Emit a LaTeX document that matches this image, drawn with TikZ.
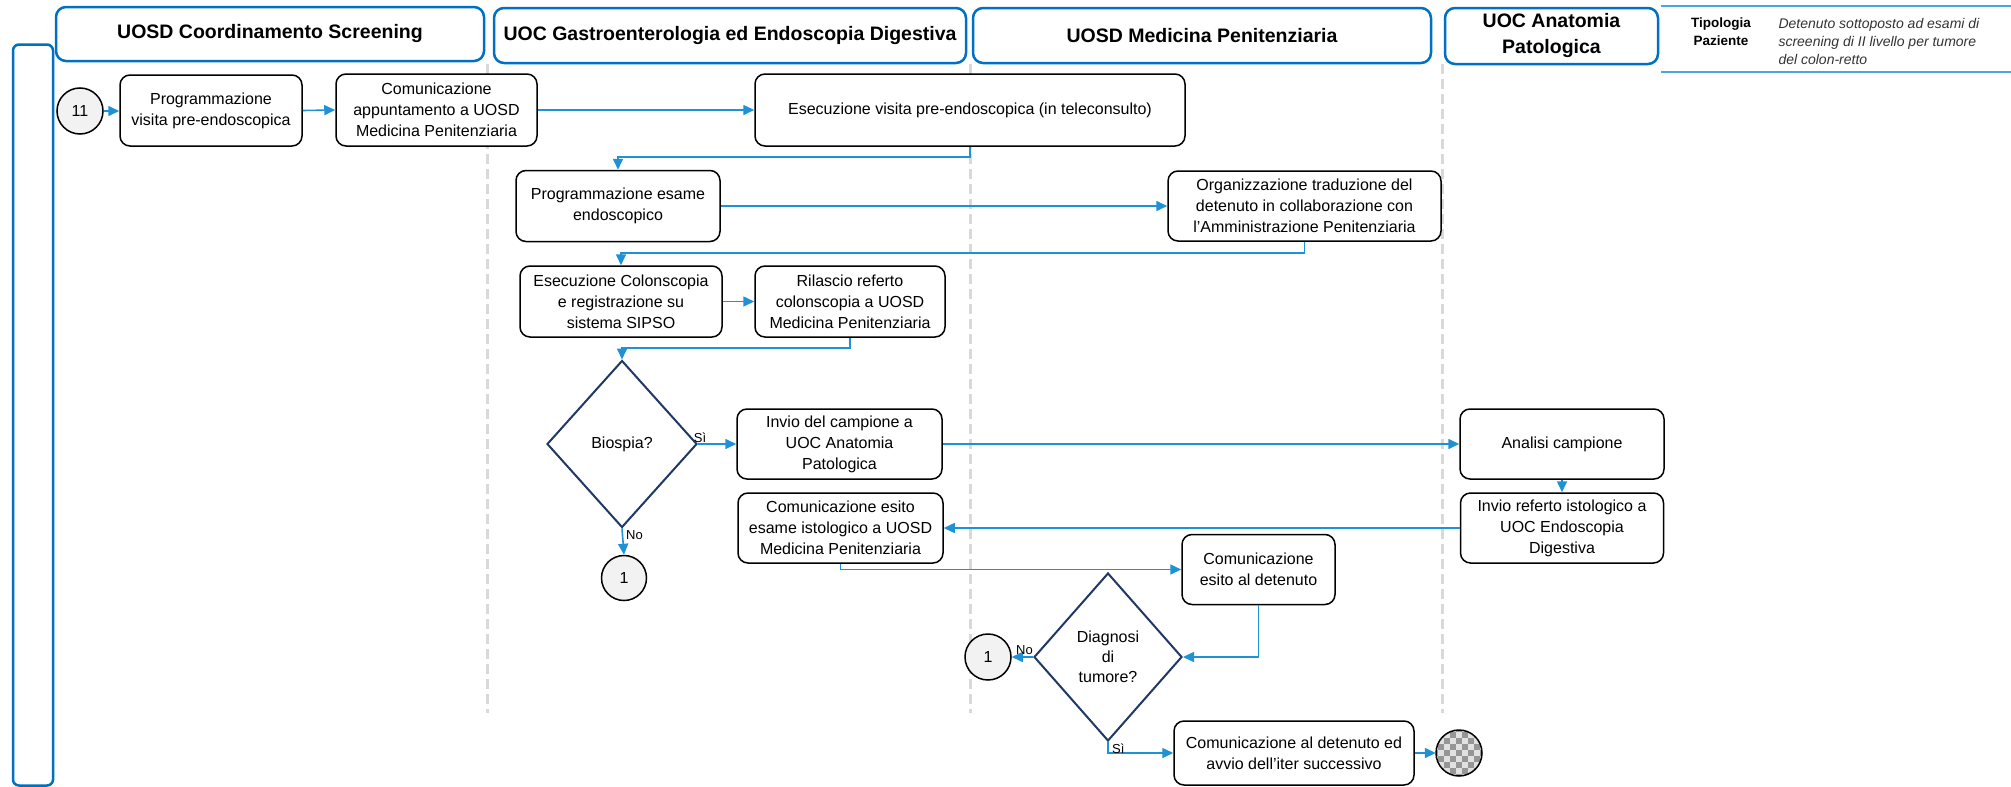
\documentclass[tikz,border=0pt]{standalone}
\usepackage{fontspec}
\setmainfont{Liberation Sans}
\usetikzlibrary{shapes.geometric, arrows.meta}
\definecolor{hdrblue}{RGB}{0,112,192}
\definecolor{connblue}{RGB}{30,145,215}
\definecolor{legblue}{RGB}{75,165,225}
\definecolor{navy}{RGB}{31,56,100}
\definecolor{lanegray}{RGB}{217,217,217}
\definecolor{circfill}{RGB}{242,242,242}
\definecolor{chkdark}{RGB}{150,150,150}
\definecolor{chklight}{RGB}{225,225,225}

\tikzset{
  box/.style={draw=black, line width=1.5pt, rounded corners=10pt, fill=white,
    align=center, inner sep=2pt, font=\fontsize{16}{21}\selectfont},
  hdr/.style={draw=hdrblue, line width=2.5pt, rounded corners=10pt, fill=white,
    align=center, inner sep=2pt, font=\bfseries\fontsize{19.5}{26}\selectfont},
  decision/.style={diamond, draw=navy, line width=2pt, fill=white, inner sep=0pt,
    align=center, font=\fontsize{16}{20}\selectfont},
  onpage/.style={circle, draw=black, line width=1.5pt, fill=circfill, inner sep=0pt,
    minimum size=46pt, font=\fontsize{16}{19}\selectfont},
  conn/.style={draw=connblue, line width=1.6pt, -{Triangle[length=11pt,width=10pt]}},
  lane/.style={draw=lanegray, line width=3pt, dash pattern=on 10pt off 5pt},
  legline/.style={draw=legblue, line width=2pt},
  lbl/.style={inner sep=1pt, font=\fontsize{13}{15}\selectfont}
}

\begin{document}
\begin{tikzpicture}[x=1pt, y=-1pt]
\useasboundingbox (0,0) rectangle (2011,787);

% swimlane separators
\draw[lane] (487,64) -- (487,713);
\draw[lane] (970,64) -- (970,713);
\draw[lane] (1442,64) -- (1442,713);

% left frame
\node[draw=hdrblue, line width=2.5pt, rounded corners=6pt, minimum width=40pt,
      minimum height=741pt, inner sep=0pt] (frame) at (33,415) {};

% lane headers
\node[hdr, minimum width=428pt, minimum height=54pt] (h1) at (270,34) {UOSD Coordinamento Screening};
\node[hdr, minimum width=472pt, minimum height=55pt] (h2) at (730,35.5) {UOC Gastroenterologia ed Endoscopia Digestiva};
\node[hdr, minimum width=458pt, minimum height=55pt] (h3) at (1202,35.5) {UOSD Medicina Penitenziaria};
\node[hdr, minimum width=213pt, minimum height=56pt] (h4) at (1551.5,36) {UOC Anatomia\\Patologica};

% patient type legend
\draw[legline] (1661,6) -- (2011,6);
\draw[legline] (1661,72) -- (2011,72);
\node[align=center, font=\bfseries\fontsize{13.5}{18}\selectfont] (tipo) at (1721,32) {Tipologia\\Paziente};
\node[anchor=west, align=left, text=black!80, font=\itshape\fontsize{14}{18}\selectfont] (tipodesc) at (1775,41)
  {Detenuto sottoposto ad esami di\\screening di II livello per tumore\\del colon-retto};

% process steps
\node[onpage] (c11) at (80,111) {11};
\node[box, minimum width=182pt, minimum height=71pt] (p1) at (211,110.5) {Programmazione\\visita pre-endoscopica};
\node[box, minimum width=201pt, minimum height=72pt] (p2) at (436.5,110) {Comunicazione\\appuntamento a UOSD\\Medicina Penitenziaria};
\node[box, minimum width=430pt, minimum height=72pt] (p3) at (970,110) {Esecuzione visita pre-endoscopica (in teleconsulto)};
\node[box, minimum width=204pt, minimum height=71pt] (p4) at (618,206) {Programmazione esame\\endoscopico};
\node[box, minimum width=273pt, minimum height=70pt] (p5) at (1304.5,206) {Organizzazione traduzione del\\detenuto in collaborazione con\\l’Amministrazione Penitenziaria};
\node[box, minimum width=202pt, minimum height=71pt] (p6) at (621,301.5) {Esecuzione Colonscopia\\e registrazione su\\sistema SIPSO};
\node[box, minimum width=190pt, minimum height=71pt] (p7) at (850,301.5) {Rilascio referto\\colonscopia a UOSD\\Medicina Penitenziaria};
\node[decision, minimum width=150pt, minimum height=167pt] (d1) at (622,444) {Biospia?};
\node[box, minimum width=205pt, minimum height=70pt] (p8) at (839.5,444) {Invio del campione a\\UOC Anatomia\\Patologica};
\node[onpage, minimum size=45pt] (c1) at (624,578) {1};
\node[box, minimum width=204pt, minimum height=70pt] (p10) at (1562,444) {Analisi campione};
\node[box, minimum width=203pt, minimum height=70pt] (p11) at (1562,528) {Invio referto istologico a\\UOC Endoscopia\\Digestiva};
\node[box, minimum width=205pt, minimum height=70pt] (p9) at (840.5,528) {Comunicazione esito\\esame istologico a UOSD\\Medicina Penitenziaria};
\node[box, minimum width=153pt, minimum height=70pt] (p12) at (1258.5,569.5) {Comunicazione\\esito al detenuto};
\node[decision, minimum width=148pt, minimum height=168pt] (d2) at (1108,657) {Diagnosi\\di\\tumore?};
\node[onpage] (c2) at (988,657) {1};
\node[box, minimum width=240pt, minimum height=64pt] (p13) at (1294,753) {Comunicazione al detenuto ed\\avvio dell’iter successivo};
\node[circle, minimum size=46pt, inner sep=0pt] (fine) at (1459,753) {};

% end event: checkered disc
\begin{scope}[shift={(fine.center)}]
  \clip (0,0) circle[radius=23pt];
  \fill[chklight] (-24,-24) rectangle (24,24);
  \foreach \i in {0,...,8} {
    \foreach \j in {0,...,8} {
      \pgfmathtruncatemacro\k{mod(\i+\j,2)}
      \ifnum\k=0 \fill[chkdark] (\i*6-27,\j*6-27) rectangle ++(6,6); \fi
    }
  }
\end{scope}
\draw[black, line width=1.5pt] (fine.center) circle[radius=23pt];

% bend levels of routed connectors
\coordinate (j1) at (0,157);
\coordinate (j2) at (0,253);
\coordinate (j3) at (0,348);

% connectors
\draw[conn] (c11.east) -- (c11.east -| p1.west);
\draw[conn] (p1.east) -- (p2.west);
\draw[conn] (p2.east) -- (p3.west);
\draw[conn] (p3.south) -- (p3.south |- j1) -| (p4.north);
\draw[conn] (p4.east) -- (p5.west);
\draw[conn] (p5.south) -- (p5.south |- j2) -| (p6.north);
\draw[conn] (p6.east) -- (p7.west);
\draw[conn] (p7.south) -- (p7.south |- j3) -| (d1.north);
\draw[conn] (d1.east) -- (p8.west);
\draw[conn] (d1.south) -- (c1.north);
\draw[conn] (p8.east) -- (p10.west);
\draw[conn] (p10.south) -- (p11.north);
\draw[conn] (p11.west) -- (p9.east);
\draw[conn] (p9.south) |- (p12.west);
\draw[conn] (p12.south) |- (d2.east);
\draw[conn] (d2.west) -- (c2.east);
\draw[conn] (d2.south) |- (p13.west);
\draw[conn] (p13.east) -- (fine.west);

% branch labels
\node[lbl, anchor=south, xshift=2pt] (si1) at (d1.east) {Sì};
\node[lbl, anchor=north west, xshift=3pt, yshift=-1pt] (no1) at (d1.south) {No};
\node[lbl, anchor=south east, xshift=1pt, yshift=1pt] (no2) at (d2.west) {No};
\node[lbl, anchor=north west, xshift=3pt, yshift=-1pt] (si2) at (d2.south) {Sì};
\end{tikzpicture}
\end{document}
